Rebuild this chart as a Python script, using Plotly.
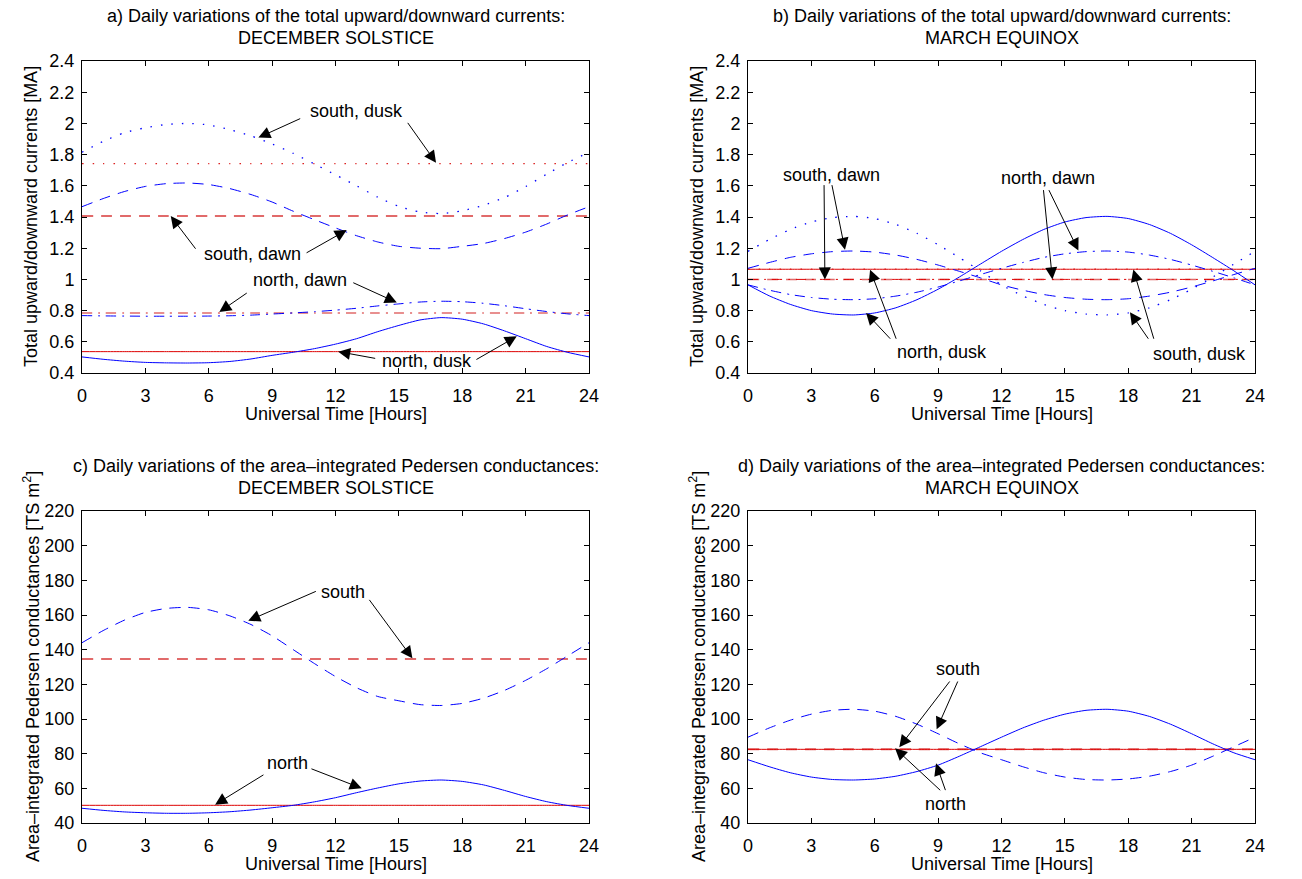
import plotly.graph_objects as go

# ---------------- data ----------------
hours = list(range(25))
x_ticks = [0, 3, 6, 9, 12, 15, 18, 21, 24]

# a) December solstice, total upward/downward currents [MA]
a_south_dusk = [1.815, 1.885, 1.94, 1.972, 1.993, 2.0, 1.99, 1.96, 1.92, 1.868, 1.808, 1.74, 1.67,
                1.6, 1.527, 1.468, 1.432, 1.422, 1.44, 1.475, 1.525, 1.595, 1.675, 1.75, 1.815]
a_south_dawn = [1.466, 1.518, 1.563, 1.596, 1.614, 1.618, 1.608, 1.582, 1.544, 1.496, 1.437, 1.383, 1.330,
                1.280, 1.240, 1.212, 1.200, 1.197, 1.212, 1.230, 1.262, 1.303, 1.355, 1.414, 1.466]
a_north_dawn = [0.768, 0.766, 0.765, 0.764, 0.764, 0.764, 0.765, 0.767, 0.771, 0.778, 0.785, 0.793, 0.803,
                0.815, 0.830, 0.843, 0.855, 0.860, 0.857, 0.847, 0.831, 0.812, 0.794, 0.779, 0.768]
a_north_dusk = [0.503, 0.488, 0.476, 0.468, 0.465, 0.464, 0.466, 0.474, 0.490, 0.513, 0.533, 0.556, 0.585,
                0.620, 0.665, 0.705, 0.740, 0.755, 0.745, 0.715, 0.670, 0.620, 0.570, 0.532, 0.503]
a_ref_south_dusk = 1.742
a_ref_south_dawn = 1.406
a_ref_north_dawn = 0.785
a_ref_north_dusk = 0.537

# b) March equinox, total upward/downward currents [MA]
b_south_dusk = [1.18, 1.255, 1.32, 1.368, 1.396, 1.404, 1.39, 1.352, 1.295, 1.222, 1.14, 1.055, 0.965,
                0.895, 0.84, 0.80, 0.778, 0.772, 0.785, 0.818, 0.87, 0.937, 1.015, 1.098, 1.18]
b_south_dawn = [1.071, 1.108, 1.141, 1.164, 1.178, 1.182, 1.175, 1.156, 1.128, 1.092, 1.052, 1.010, 0.965,
                0.931, 0.903, 0.884, 0.873, 0.870, 0.876, 0.893, 0.918, 0.951, 0.990, 1.031, 1.071]
b_north_dawn = [0.965, 0.931, 0.903, 0.884, 0.873, 0.870, 0.876, 0.893, 0.918, 0.951, 0.990, 1.031, 1.071,
                1.108, 1.141, 1.164, 1.178, 1.182, 1.175, 1.156, 1.128, 1.092, 1.052, 1.010, 0.965]
b_north_dusk = [0.965, 0.895, 0.84, 0.80, 0.778, 0.772, 0.785, 0.818, 0.87, 0.937, 1.015, 1.098, 1.18,
                1.255, 1.32, 1.368, 1.396, 1.404, 1.39, 1.352, 1.295, 1.222, 1.14, 1.055, 0.965]
b_ref_dusk = 1.065
b_ref_dawn = 1.0

# c) December solstice, area-integrated Pedersen conductances [TS m^2]
c_south = [144, 151, 157, 161.5, 163.8, 164.4, 163, 159.5, 154.5, 148, 140, 132, 124.5,
           118, 113, 110.5, 108.3, 107.8, 109.0, 112.0, 116.5, 122.3, 129.0, 136.5, 144]
c_north = [48.5, 47.3, 46.4, 45.9, 45.6, 45.6, 45.9, 46.5, 47.5, 48.8, 50.2, 52.2, 54.6,
           57.5, 60.2, 62.6, 64.2, 64.8, 64.0, 62.0, 58.8, 55.3, 52.3, 50.1, 48.5]
c_ref_south = 134.6
c_ref_north = 50.2

# d) March equinox, area-integrated Pedersen conductances [TS m^2]
d_south = [89.5, 94.8, 99.3, 102.8, 105.0, 105.6, 104.5, 101.5, 97.0, 91.5, 85.7, 80.5, 76.5,
           72.5, 69.0, 66.5, 65.1, 64.8, 65.4, 67.0, 69.7, 73.4, 78.5, 84.0, 89.5]
d_north = [76.5, 72.5, 69.0, 66.5, 65.1, 64.8, 65.4, 67.0, 69.7, 73.4, 78.5, 84.0, 89.5,
           94.8, 99.3, 102.8, 105.0, 105.6, 104.5, 101.5, 97.0, 91.5, 85.7, 80.5, 76.5]
d_ref = 82.5

titles = [
    ("a) Daily variations of the total upward/downward currents:", "DECEMBER SOLSTICE"),
    ("b) Daily variations of the total upward/downward currents:", "MARCH EQUINOX"),
    ("c) Daily variations of the area\u2013integrated Pedersen conductances:", "DECEMBER SOLSTICE"),
    ("d) Daily variations of the area\u2013integrated Pedersen conductances:", "MARCH EQUINOX"),
]
ytitle_top = "Total upward/downward currents [MA]"
ytitle_bot = "Area\u2013integrated Pedersen conductances [TS m<sup>2</sup>]"
xtitle = "Universal Time [Hours]"

# ---------------- styling ----------------
W, H = 1302, 879
FONT = "Liberation Sans, Arial, Helvetica, sans-serif"
BLUE = "#0000ff"
RED_SOLID = "#dd0000"
RED_DASH = "rgba(220,80,80,0.85)"
RED_DOT = "#dd2222"
DASH = "11px,8px"
DOT = "1.5px,9px"
DASHDOT = "10px,6px,2px,6px"

# page-pixel boxes of the four axes (left, right, top, bottom)
boxes = {1: (82, 589, 61, 373), 2: (748, 1255, 61, 373),
         3: (82, 589, 511, 823), 4: (748, 1255, 511, 823)}


def px(v):
    return v / W


def py(v):
    return 1 - v / H


fig = go.Figure()


def ax_suffix(i):
    return "" if i == 1 else str(i)


def add_line(panel, y, color, dash, width=1.0):
    s = ax_suffix(panel)
    fig.add_trace(go.Scatter(x=hours, y=y, mode="lines", xaxis="x" + s, yaxis="y" + s,
                             line=dict(color=color, dash=dash, width=width, shape="spline",
                                       smoothing=0.6),
                             showlegend=False, hoverinfo="skip"))


def add_ref(panel, val, color, dash, width=1.0):
    add_line(panel, [val] * len(hours), color, dash, width)


# panel a
add_ref(1, a_ref_south_dusk, RED_DOT, DOT, 1.3)
add_ref(1, a_ref_south_dawn, RED_DASH, DASH, 2.0)
add_ref(1, a_ref_north_dawn, RED_DASH, DASHDOT, 1.5)
add_ref(1, a_ref_north_dusk, RED_SOLID, "solid", 1.0)
add_line(1, a_south_dusk, BLUE, DOT, 1.3)
add_line(1, a_south_dawn, BLUE, DASH)
add_line(1, a_north_dawn, BLUE, DASHDOT)
add_line(1, a_north_dusk, BLUE, "solid")

# panel b
add_ref(2, b_ref_dusk, RED_SOLID, "solid", 1.0)
add_ref(2, b_ref_dusk, RED_DOT, DOT, 1.3)
add_ref(2, b_ref_dawn, RED_DASH, DASH, 1.5)
add_ref(2, b_ref_dawn, RED_SOLID, DASHDOT, 1.0)
add_line(2, b_south_dusk, BLUE, DOT, 1.3)
add_line(2, b_south_dawn, BLUE, DASH)
add_line(2, b_north_dawn, BLUE, DASHDOT)
add_line(2, b_north_dusk, BLUE, "solid")

# panel c
add_ref(3, c_ref_south, RED_DASH, DASH, 2.0)
add_ref(3, c_ref_north, RED_SOLID, "solid", 1.0)
add_line(3, c_south, BLUE, DASH)
add_line(3, c_north, BLUE, "solid")

# panel d
add_ref(4, d_ref, RED_DASH, DASH, 2.0)
add_ref(4, d_ref, RED_SOLID, "solid", 1.0)
add_line(4, d_south, BLUE, DASH)
add_line(4, d_north, BLUE, "solid")

# ---------------- axes ----------------
common = dict(showline=True, linecolor="black", linewidth=1, mirror="ticks", ticks="inside",
              ticklen=5, tickcolor="black", tickwidth=1, showgrid=False, zeroline=False,
              automargin=False,
              tickfont=dict(family=FONT, size=18, color="black"))
layout = dict(width=W, height=H, margin=dict(l=0, r=0, t=0, b=0, autoexpand=False),
              paper_bgcolor="white", plot_bgcolor="white", showlegend=False,
              font=dict(family=FONT, size=18, color="black"))
for i, (l, r, t, b) in boxes.items():
    s = ax_suffix(i)
    layout["xaxis" + s] = dict(common, domain=[px(l), px(r)], range=[0, 24], tickvals=x_ticks,
                               anchor="y" + s, ticklabelstandoff=6)
    if i <= 2:
        yr = dict(range=[0.4, 2.4], tick0=0.4, dtick=0.2)
    else:
        yr = dict(range=[40, 220], tick0=40, dtick=20)
    layout["yaxis" + s] = dict(common, domain=[py(b), py(t)], anchor="x" + s,
                               ticklabelstandoff=3, **yr)
fig.update_layout(**layout)

# ---------------- titles and axis labels ----------------
ann = []
for i, (l, r, t, b) in boxes.items():
    cx = px((l + r) / 2)
    ann.append(dict(xref="paper", yref="paper", x=cx, y=py(t - 45), text=titles[i - 1][0],
                    showarrow=False, xanchor="center", yanchor="middle", font=dict(size=18)))
    ann.append(dict(xref="paper", yref="paper", x=cx, y=py(t - 23), text=titles[i - 1][1],
                    showarrow=False, xanchor="center", yanchor="middle", font=dict(size=18)))
    ann.append(dict(xref="paper", yref="paper", x=cx, y=py(b + 41), text=xtitle,
                    showarrow=False, xanchor="center", yanchor="middle", font=dict(size=18)))
    ann.append(dict(xref="paper", yref="paper", x=px(l - 51), y=py((t + b) / 2),
                    text=ytitle_top if i <= 2 else ytitle_bot, textangle=-90,
                    showarrow=False, xanchor="center", yanchor="middle", font=dict(size=18)))


def label(panel, text, x, y):
    s = ax_suffix(panel)
    ann.append(dict(xref="x" + s, yref="y" + s, x=x, y=y, text=text, showarrow=False,
                    xanchor="center", yanchor="middle", font=dict(size=18)))


def arrow(panel, tail, head):
    s = ax_suffix(panel)
    ann.append(dict(xref="x" + s, yref="y" + s, axref="x" + s, ayref="y" + s,
                    x=head[0], y=head[1], ax=tail[0], ay=tail[1], text="", showarrow=True,
                    arrowhead=2, arrowsize=2.4, arrowwidth=1, arrowcolor="black",
                    standoff=0, startstandoff=0))


# panel a labels
label(1, "south, dusk", 13.0, 2.077)
arrow(1, (10.4, 2.035), (8.35, 1.909))
arrow(1, (15.37, 2.013), (16.76, 1.748))
label(1, "south, dawn", 8.07, 1.165)
arrow(1, (5.43, 1.187), (4.2, 1.406))
arrow(1, (10.56, 1.165), (12.53, 1.316))
label(1, "north, dawn", 10.32, 0.999)
arrow(1, (7.87, 0.919), (6.5, 0.791))
arrow(1, (12.77, 0.983), (14.9, 0.852))
label(1, "north, dusk", 16.33, 0.477)
arrow(1, (13.95, 0.492), (12.13, 0.537))
arrow(1, (18.6, 0.481), (20.58, 0.635))

# panel b labels
label(2, "south, dawn", 3.94, 1.672)
arrow(2, (3.6, 1.614), (3.64, 1.0))
arrow(2, (3.96, 1.614), (4.59, 1.19))
label(2, "north, dawn", 14.19, 1.652)
arrow(2, (13.98, 1.582), (14.41, 1.0))
arrow(2, (14.21, 1.582), (15.64, 1.185))
label(2, "north, dusk", 9.18, 0.535)
arrow(2, (7.04, 0.61), (5.78, 1.062))
arrow(2, (6.8, 0.61), (5.59, 0.785))
label(2, "south, dusk", 21.36, 0.524)
arrow(2, (19.23, 0.61), (18.24, 1.063))
arrow(2, (19.0, 0.61), (18.08, 0.79))

# panel c labels
label(3, "south", 12.34, 173.4)
arrow(3, (11.14, 174.0), (7.87, 156.7))
arrow(3, (13.55, 169.6), (15.64, 135.0))
label(3, "north", 9.74, 74.4)
arrow(3, (8.66, 68.3), (6.3, 50.6))
arrow(3, (10.79, 71.6), (13.24, 60.0))

# panel d labels
label(4, "south", 9.93, 128.7)
arrow(4, (9.6, 122.5), (7.16, 83.7))
arrow(4, (9.96, 122.5), (8.93, 94.1))
label(4, "north", 9.36, 50.8)
arrow(4, (9.17, 58.1), (6.96, 83.1))
arrow(4, (9.37, 58.1), (8.9, 74.4))

fig.update_layout(annotations=ann)
fig.write_html("out.html", config={"displayModeBar": False},
               post_script="document.body.style.margin='0';document.body.style.padding='0';"
                           "document.body.style.overflow='hidden';")
